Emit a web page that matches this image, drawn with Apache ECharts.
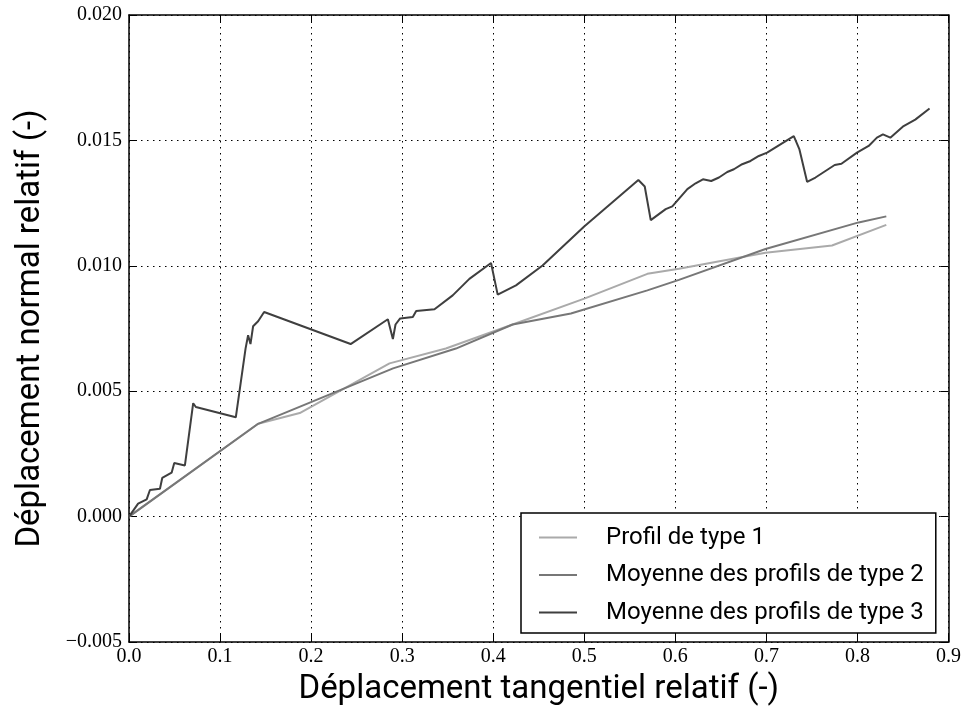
<!DOCTYPE html>
<html>
<head>
<meta charset="utf-8">
<script src="https://cdn.jsdelivr.net/npm/echarts@6/dist/echarts.min.js"></script>
<style>
html,body{margin:0;padding:0;background:#fff;}
#chart{width:964px;height:711px;}
</style>
</head>
<body>
<div id="chart"></div>
<script>
// Profil de type 1
const type1X = [0, 0.1418, 0.1875, 0.2861, 0.348, 0.4213, 0.5, 0.5693, 0.604, 0.699, 0.7721, 0.8317];
const type1Y = [0, 0.0037, 0.00413, 0.00611, 0.0067, 0.00766, 0.00869, 0.00968, 0.00988, 0.01052, 0.01081, 0.01163];

// Moyenne des profils de type 2
const type2X = [0, 0.1418, 0.29, 0.359, 0.4213, 0.4853, 0.5693, 0.604, 0.699, 0.8013, 0.8317];
const type2Y = [0, 0.0037, 0.00591, 0.0067, 0.00766, 0.0081, 0.00902, 0.00944, 0.01067, 0.01173, 0.01197];

// Moyenne des profils de type 3
const type3X = [0, 0.010, 0.0194, 0.023, 0.034, 0.0365, 0.0468, 0.0497, 0.0614, 0.0705, 0.0734,
  0.1173, 0.128, 0.1308, 0.1334, 0.1363, 0.1418, 0.1484, 0.2434, 0.2843, 0.2898, 0.2927, 0.2978,
  0.3117, 0.3154, 0.3355, 0.3555, 0.3738, 0.3976, 0.4049, 0.425, 0.4542, 0.4999, 0.5594, 0.5664,
  0.573, 0.5894, 0.5967, 0.6132, 0.6223, 0.6303, 0.6394, 0.6479, 0.657, 0.6643, 0.6734, 0.6826,
  0.6917, 0.7008, 0.7301, 0.7363, 0.7447, 0.7539, 0.775, 0.7824, 0.7995, 0.8123, 0.8214, 0.828,
  0.8361, 0.8507, 0.8635, 0.8792];
const type3Y = [0, 0.00052, 0.00069, 0.00106, 0.00111, 0.00154, 0.00175, 0.00214, 0.00204, 0.00452, 0.00437,
  0.00396, 0.0067, 0.00723, 0.00688, 0.00759, 0.00779, 0.00816, 0.00688, 0.00787, 0.00708, 0.00766, 0.0079,
  0.00796, 0.0082, 0.00827, 0.00882, 0.00948, 0.01011, 0.00885, 0.00922, 0.01001, 0.01157, 0.01342, 0.01316,
  0.01182, 0.01226, 0.01237, 0.01306, 0.01329, 0.01345, 0.01338, 0.01352, 0.01374, 0.01385, 0.01405, 0.01418,
  0.01438, 0.01451, 0.01517, 0.01464, 0.01335, 0.01352, 0.01402, 0.01407, 0.01451, 0.01478, 0.01511, 0.01524,
  0.01511, 0.01557, 0.01583, 0.01627];

const seriesNames = ['Profil de type 1', 'Moyenne des profils de type 2', 'Moyenne des profils de type 3'];
const seriesColors = ['#aaaaaa', '#777777', '#3f3f3f'];
const xTitle = 'Déplacement tangentiel relatif (-)';
const yTitle = 'Déplacement normal relatif (-)';

const pairs = (xs, ys) => xs.map((x, i) => [x, ys[i]]);

const tickFont = {fontFamily: 'Liberation Serif', fontSize: 20, color: '#000'};
const sansFont = 'Roboto';

// legend key: a 38px stroke followed by blank room before the label
const legendKey = 'path://M0,0L38,0L38,2L0,2Z M62,0L62,2Z';

const chart = echarts.init(document.getElementById('chart'), null, {renderer: 'canvas'});

const gridLine = {show: true, lineStyle: {color: '#000', type: [1.5, 4.5], width: 1}};
const axisLineStyle = {show: true, onZero: false, lineStyle: {color: '#000', width: 1.5}};
const inTicks = {show: true, inside: true, length: 8, lineStyle: {color: '#000', width: 1}};

chart.setOption({
  animation: false,
  backgroundColor: '#fff',
  grid: {left: 129, right: 14, top: 15, bottom: 66, containLabel: false},
  xAxis: [{
    type: 'value', min: 0, max: 0.9, interval: 0.1,
    name: xTitle, nameLocation: 'middle', nameGap: 31,
    nameTextStyle: {fontFamily: sansFont, fontSize: 33, color: '#000', verticalAlign: 'top'},
    axisLine: axisLineStyle, axisTick: inTicks, splitLine: gridLine,
    axisLabel: Object.assign({margin: 5, formatter: v => v.toFixed(1)}, tickFont)
  }, {
    type: 'value', position: 'top', min: 0, max: 0.9, interval: 0.1,
    axisLine: axisLineStyle, axisTick: inTicks, splitLine: {show: false},
    axisLabel: {show: false}
  }],
  yAxis: [{
    type: 'value', min: -0.005, max: 0.02, interval: 0.005,
    name: yTitle, nameLocation: 'middle', nameGap: 82,
    nameTextStyle: {fontFamily: sansFont, fontSize: 33, color: '#000'},
    axisLine: axisLineStyle, axisTick: inTicks, splitLine: gridLine,
    axisLabel: Object.assign({margin: 7, formatter: v => v.toFixed(3).replace('-', '\u2212')}, tickFont)
  }, {
    type: 'value', position: 'right', min: -0.005, max: 0.02, interval: 0.005,
    axisLine: axisLineStyle, axisTick: inTicks, splitLine: {show: false},
    axisLabel: {show: false}
  }],
  legend: {
    left: 521, top: 513,
    orient: 'vertical',
    backgroundColor: '#fff',
    borderColor: '#000', borderWidth: 1.5,
    padding: [11, 12, 7, 18],
    icon: legendKey,
    itemWidth: 62, itemHeight: 2, itemGap: 10.5,
    textStyle: {fontFamily: sansFont, fontSize: 24, color: '#000', lineHeight: 27},
    data: seriesNames
  },
  series: [0, 1, 2].map(i => ({
    name: seriesNames[i], type: 'line', symbol: 'none',
    data: pairs([type1X, type2X, type3X][i], [type1Y, type2Y, type3Y][i]),
    lineStyle: {color: seriesColors[i], width: 2}, itemStyle: {color: seriesColors[i]}, z: 3 + i
  }))
});
</script>
</body>
</html>
